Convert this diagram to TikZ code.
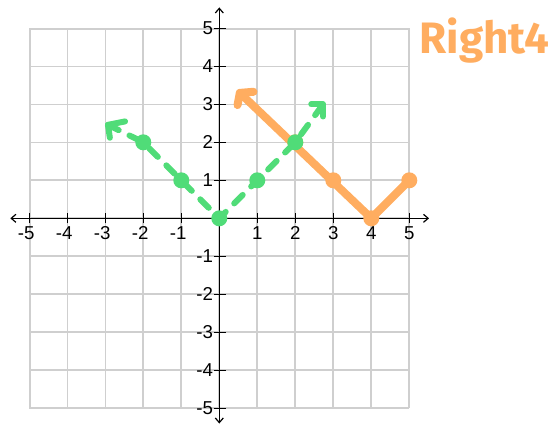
\documentclass[tikz,border=0pt]{standalone}
\usepackage{fontspec}
\setmainfont{Liberation Sans}
\newfontfamily\titlefont{Fira Sans}
\usetikzlibrary{arrows.meta}
\definecolor{gr}{HTML}{50DC78}
\definecolor{orn}{HTML}{FFAD60}
\definecolor{gridc}{HTML}{CFCFCF}
\tikzset{
  gridline/.style={draw=gridc, line width=1.4pt},
  axisline/.style={draw=black, line width=0.9pt},
  axisarrow/.style={axisline, {Straight Barb[length=3.5pt,width=6pt]}-{Straight Barb[length=3.5pt,width=6pt]}},
  ticklabel/.style={font=\fontsize{14}{14}\selectfont, inner sep=0pt},
  gdot/.style={circle, fill=gr, minimum size=12pt, inner sep=0pt},
  odot/.style={circle, fill=orn, minimum size=12pt, inner sep=0pt},
  gline/.style={draw=gr, line width=4.5pt, dash pattern=on 9pt off 9pt, line cap=round},
  ghead/.style={draw=gr, line width=4.5pt, line cap=round, line join=round},
  oline/.style={draw=orn, line width=6pt, line cap=round, line join=round},
  titletext/.style={font=\titlefont\bfseries\fontsize{33}{33}\selectfont, text=orn, inner sep=0pt}
}
\begin{document}
\begin{tikzpicture}[x=28.5pt,y=28.5pt]
\useasboundingbox (-5.771,-5.492) rectangle (8.755,5.745);
% grid
\draw[gridline] (-5,-5) grid (5,5);
% axes
\coordinate (xl) at (-5.5,0);
\coordinate (xr) at (5.52,0);
\coordinate (yb) at (0,-5.4);
\coordinate (yt) at (0,5.55);
\draw[axisarrow] (xl) -- (xr);
\draw[axisarrow] (yb) -- (yt);
\foreach \i in {-5,...,-1,1,2,3,4,5} {
  \draw[axisline] (\i,-0.13) -- (\i,0.13);
  \draw[axisline] (-0.14,\i) -- (0.18,\i);
}
\foreach \i in {1,...,5} {
  \node[ticklabel] (xlab\i) at (\i,-0.38) {\i};
  \node[ticklabel] (xlabm\i) at (-\i,-0.38) {\llap{-}\i};
  \node[ticklabel, anchor=east] (ylab\i) at (-0.16,\i) {\i};
  \node[ticklabel, anchor=east] (ylabm\i) at (-0.16,-\i) {-\i};
}
% title
\node[titletext, anchor=base] (title) at (6.98,4.35) {Right4};
% orange graph
\coordinate (otip) at (0.54,3.3);
\coordinate (oh1) at (0.48,2.98);
\coordinate (oh2) at (0.9,3.33);
\node[odot] (o2) at (2,2) {};
\node[odot] (o3) at (3,1) {};
\node[odot] (o4) at (4,0) {};
\node[odot] (o5) at (5,1) {};
\draw[oline] (otip) -- (o4.center) -- (o5.center);
\draw[oline] (oh1) -- (otip) -- (oh2);
% green graph
\coordinate (gtl) at (-2.93,2.46);
\coordinate (gl1) at (-2.88,2.12);
\coordinate (gl2) at (-2.48,2.55);
\coordinate (gtr) at (2.73,3.0);
\coordinate (gr1) at (2.42,3.0);
\coordinate (gr2) at (2.73,2.68);
\draw[gline] (gtl) -- (-2,2) -- (-1,1) -- (0,0) -- (1,1) -- (2,2) -- (gtr);
\draw[ghead] (gl1) -- (gtl) -- (gl2);
\draw[ghead] (gr1) -- (gtr) -- (gr2);
\node[gdot] (gm2) at (-2,2) {};
\node[gdot] (gm1) at (-1,1) {};
\node[gdot] (g0) at (0,0) {};
\node[gdot] (g1) at (1,1) {};
\node[gdot] (g2) at (2,2) {};
\end{tikzpicture}
\end{document}
